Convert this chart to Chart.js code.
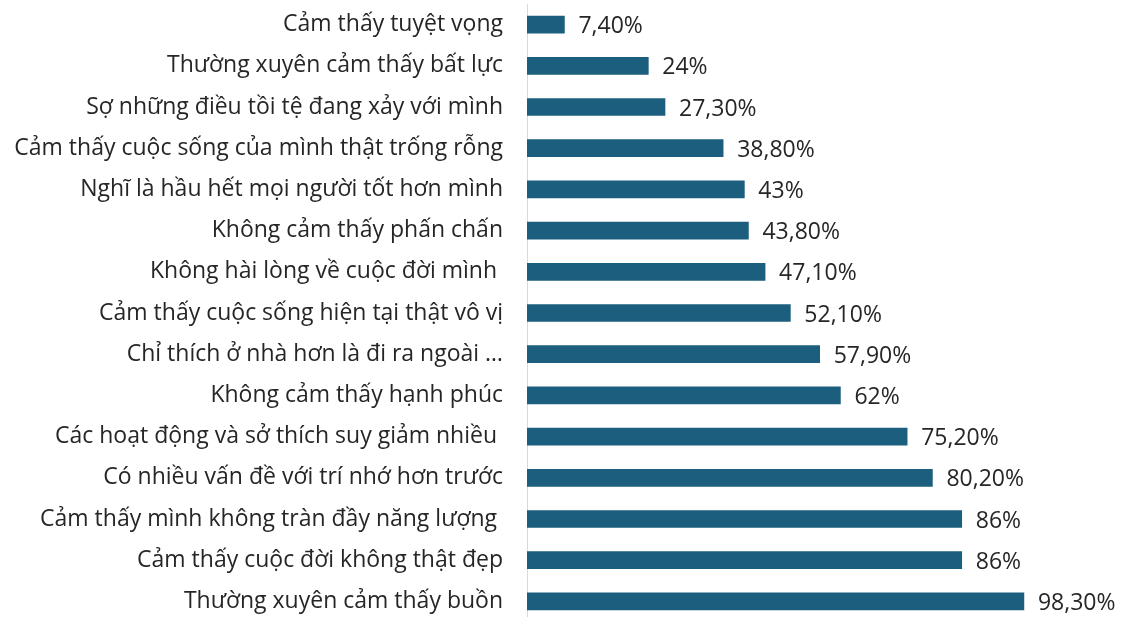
<!DOCTYPE html>
<html>
<head>
<meta charset="utf-8">
<script src="https://cdn.jsdelivr.net/npm/chart.js@4.4.1/dist/chart.umd.min.js"></script>
<style>
html,body{margin:0;padding:0;background:#fff;overflow:hidden;}
#wrap{width:1125px;height:622px;}
</style>
</head>
<body>
<div id="wrap"><canvas id="c" width="1125" height="622"></canvas></div>
<script>
const categories = [
  "Cảm thấy tuyệt vọng",
  "Thường xuyên cảm thấy bất lực",
  "Sợ những điều tồi tệ đang xảy với mình",
  "Cảm thấy cuộc sống của mình thật trống rỗng",
  "Nghĩ là hầu hết mọi người tốt hơn mình",
  "Không cảm thấy phấn chấn",
  "Không hài lòng về cuộc đời mình ",
  "Cảm thấy cuộc sống hiện tại thật vô vị",
  "Chỉ thích ở nhà hơn là đi ra ngoài …",
  "Không cảm thấy hạnh phúc",
  "Các hoạt động và sở thích suy giảm nhiều ",
  "Có nhiều vấn đề với trí nhớ hơn trước",
  "Cảm thấy mình không tràn đầy năng lượng ",
  "Cảm thấy cuộc đời không thật đẹp",
  "Thường xuyên cảm thấy buồn"
];
const values = [7.4, 24, 27.3, 38.8, 43, 43.8, 47.1, 52.1, 57.9, 62, 75.2, 80.2, 86, 86, 98.3];

function fmt(v){
  return Number.isInteger(v) ? v + "%" : v.toFixed(2).replace(".", ",") + "%";
}

const FONT = "'Open Sans', 'Noto Sans', sans-serif";

const valueLabels = {
  id: "valueLabels",
  afterDatasetsDraw(chart){
    const ctx = chart.ctx;
    const meta = chart.getDatasetMeta(0);
    ctx.save();
    ctx.font = "23px " + FONT;
    ctx.fillStyle = "#262626";
    ctx.textAlign = "left";
    ctx.textBaseline = "middle";
    meta.data.forEach((bar, i) => {
      ctx.fillText(fmt(values[i]), bar.x + 14, bar.y + 2);
    });
    ctx.restore();
  }
};

new Chart(document.getElementById("c"), {
  type: "bar",
  data: {
    labels: categories,
    datasets: [{
      data: values,
      backgroundColor: "#1b5e7e",
      borderWidth: 0,
      barThickness: 17
    }]
  },
  options: {
    indexAxis: "y",
    responsive: false,
    animation: false,
    devicePixelRatio: 1,
    layout: { padding: { top: 4, right: 0, bottom: 0, left: 0 } },
    plugins: { legend: { display: false }, tooltip: { enabled: false } },
    scales: {
      x: { display: false, min: 0, max: 118.3 },
      y: {
        grid: { display: false, drawTicks: false },
        border: { display: true, color: "#d9d9d9", width: 1 },
        ticks: {
          color: "#262626",
          font: { family: FONT, size: 23 },
          padding: 24,
          autoSkip: false
        },
        afterFit(scale){
          scale.width = 527;
          scale.paddingTop = 0;
          scale.paddingBottom = 0;
        }
      }
    }
  },
  plugins: [valueLabels]
});
</script>
</body>
</html>
